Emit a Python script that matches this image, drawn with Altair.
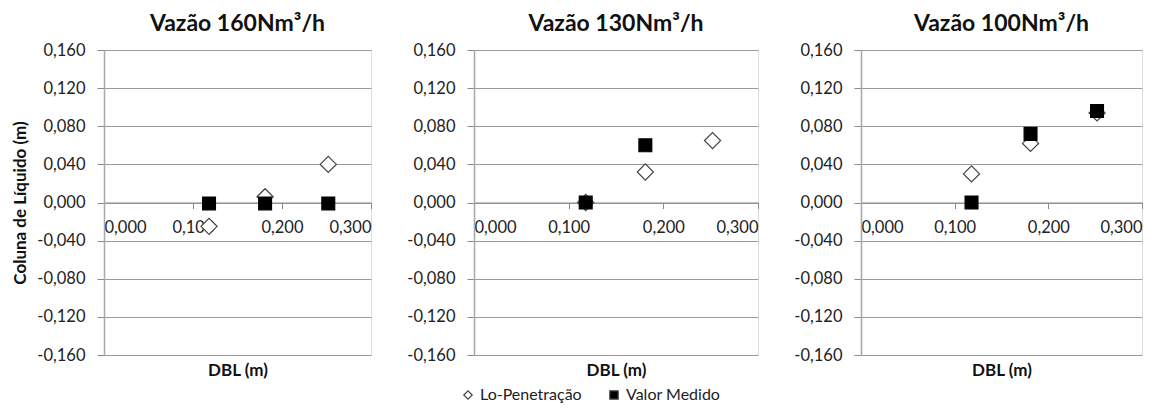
import altair as alt
import pandas as pd

# ---- data ----
series_names = ["Lo-Penetração", "Valor Medido"]
dbl = [0.118, 0.181, 0.252]

titles = ["Vazão 160Nm³/h", "Vazão 130Nm³/h", "Vazão 100Nm³/h"]
lo_160 = [-0.025, 0.006, 0.040]
med_160 = [-0.001, -0.001, -0.001]
lo_130 = [0.000, 0.032, 0.065]
med_130 = [0.000, 0.060, None]
lo_100 = [0.030, 0.062, 0.094]
med_100 = [0.000, 0.072, 0.096]

y_ticks = [-0.16, -0.12, -0.08, -0.04, 0.0, 0.04, 0.08, 0.12, 0.16]
x_ticks = [0.0, 0.1, 0.2, 0.3]

FONT = "Lato"
H = 305
LBL = "replace(replace(format(datum.value, '.3f'), '.', ','), '\u2212', '-')"


def make_df(lo, med):
    rows = []
    for x, v in zip(dbl, lo):
        if v is not None:
            rows.append({"DBL": x, "val": v, "serie": series_names[0]})
    for x, v in zip(dbl, med):
        if v is not None:
            rows.append({"DBL": x, "val": v, "serie": series_names[1]})
    return pd.DataFrame(rows)


def panel(title, lo, med, width, first):
    df = make_df(lo, med)
    yaxis = alt.Axis(
        values=y_ticks, labelExpr=LBL, grid=True, gridColor="#9a9a9a",
        domain=True, domainColor="#a8a8a8", domainWidth=1.5,
        tickColor="#8a8a8a", tickSize=7,
        labelPadding=12, labelFont=FONT, labelFontSize=16.5, labelColor="#222",
        title="Coluna de Líquido (m)" if first else None,
        titleFont=FONT, titleFontSize=17, titleFontWeight="bold",
        titleColor="#111", titlePadding=7,
    )
    xaxis = alt.Axis(
        values=x_ticks, labelExpr=LBL, grid=False, offset=-H / 2,
        domainColor="#8a8a8a", tickColor="#8a8a8a", tickSize=6,
        labelPadding=11, labelFont=FONT, labelFontSize=16.5, labelColor="#222",
        title="DBL (m)", titleFont=FONT, titleFontSize=17,
        titleFontWeight="bold", titleColor="#111",
        titleY=H / 2 + 7, titleBaseline="top",
    )
    base = alt.Chart(df).encode(
        x=alt.X("DBL:Q", scale=alt.Scale(domain=[0, 0.3], nice=False, zero=False), axis=xaxis),
        y=alt.Y("val:Q", scale=alt.Scale(domain=[-0.16, 0.16], nice=False), axis=yaxis),
        shape=alt.Shape("serie:N", scale=alt.Scale(domain=series_names, range=["diamond", "square"]),
                        legend=alt.Legend(title=None, orient="none", direction="horizontal",
                                          legendX=356, legendY=337,
                                          symbolSize=70,
                                          labelFont=FONT, labelFontSize=16, labelColor="#222",
                                          columnPadding=24, symbolStrokeWidth=1.2)),
        fill=alt.Fill("serie:N", scale=alt.Scale(domain=series_names, range=["white", "black"])),
    )
    lo_layer = base.transform_filter(alt.datum.serie == series_names[0]).mark_point(
        opacity=1, strokeWidth=1.2, stroke="#444444", size=260)
    med_layer = base.transform_filter(alt.datum.serie == series_names[1]).mark_point(
        opacity=1, strokeWidth=1.2, stroke="black", size=165)
    return alt.layer(lo_layer, med_layer).properties(
        width=width, height=H,
        title=alt.Title(title, font=FONT, fontSize=23, fontWeight="bold", color="#111",
                        anchor="middle", offset=6),
    )


p1 = panel(titles[0], lo_160, med_160, 267, True)
p2 = panel(titles[1], lo_130, med_130, 284, False)
p3 = panel(titles[2], lo_100, med_100, 281, False)

chart = alt.hconcat(p1, p2, p3, spacing=103, bounds="flush").properties(
    padding={"left": 3, "top": 4, "right": 5, "bottom": 3}
).configure_view(
    stroke="#4a4a4a", strokeWidth=1.5
).configure(background="white")

chart.save("out.html", embed_options={"renderer": "svg", "actions": False})
